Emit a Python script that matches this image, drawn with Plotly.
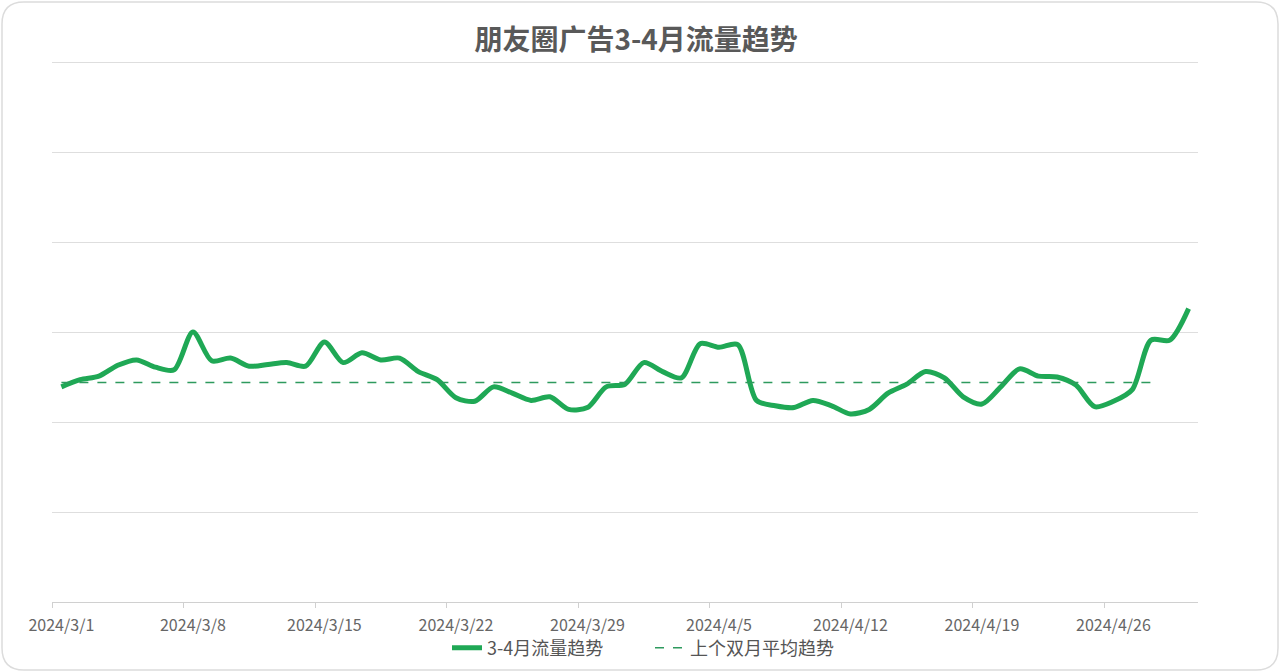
import plotly.graph_objects as go

dates = ["2024/3/%d" % d for d in range(1, 32)] + ["2024/4/%d" % d for d in range(1, 31)]
traffic = [239, 247, 251, 263, 269, 261, 258, 300, 268, 271,
           262, 264, 266, 262, 289, 266, 277, 269, 271, 256,
           247, 227, 223, 239, 232, 224, 228, 214, 216, 239,
           242, 266, 256, 249, 287, 283, 286, 224, 218, 216,
           224, 218, 209, 214, 232, 242, 256, 249, 228, 220,
           239, 259, 251, 250, 241, 217, 223, 236, 291, 291,
           326]
prev_avg = [244] * 59
tick_labels = ["2024/3/1", "2024/3/8", "2024/3/15", "2024/3/22", "2024/3/29",
               "2024/4/5", "2024/4/12", "2024/4/19", "2024/4/26"]

idx = list(range(len(dates)))
tick_pos = [dates.index(t) for t in tick_labels]

W, H = 1280, 672
L, R, T, B = 52, 82, 53, 70
pw, ph = W - L - R, H - T - B

fig = go.Figure()
fig.add_trace(go.Scatter(
    x=idx, y=traffic, mode="lines", name="3-4月流量趋势",
    line=dict(color="#1fa855", width=5, shape="spline", smoothing=0.8),
    customdata=dates, hovertemplate="%{customdata}: %{y}<extra></extra>"))
fig.add_trace(go.Scatter(
    x=idx[:len(prev_avg)], y=prev_avg, mode="lines", name="上个双月平均趋势",
    line=dict(color="#2e9a5e", width=1.5, dash="dash")))

def px2paper(px, py):
    return (px - L) / pw, (H - B - py) / ph

x0, y0, x1, y1, r = 2, 2, 1278, 670, 22
pts = [
    ("M", [(x0 + r, y0)]), ("L", [(x1 - r, y0)]), ("Q", [(x1, y0), (x1, y0 + r)]),
    ("L", [(x1, y1 - r)]), ("Q", [(x1, y1), (x1 - r, y1)]), ("L", [(x0 + r, y1)]),
    ("Q", [(x0, y1), (x0, y1 - r)]), ("L", [(x0, y0 + r)]), ("Q", [(x0, y0), (x0 + r, y0)]),
]
path = ""
for cmd, ps in pts:
    path += cmd + " " + " ".join("%.5f,%.5f" % px2paper(a, b) for a, b in ps) + " "
path += "Z"
fig.add_shape(type="path", path=path, xref="paper", yref="paper",
              line=dict(color="#dcdcdc", width=1.5), layer="below")

lx, ly = px2paper(650, 648)
fig.update_layout(
    width=W, height=H,
    margin=dict(l=L, r=R, t=T, b=B, autoexpand=False),
    paper_bgcolor="white", plot_bgcolor="white",
    font=dict(family="Noto Sans CJK SC, Noto Sans, sans-serif", color="#666"),
    title=dict(text="<b>朋友圈广告3-4月流量趋势</b>", x=0.497, xanchor="center",
               y=1 - 40 / H, yanchor="middle",
               font=dict(size=28, color="#595959")),
    showlegend=True,
    legend=dict(orientation="h", x=lx, xanchor="center",
                y=ly, yanchor="middle",
                font=dict(size=18, color="#555"),
                entrywidth=158, entrywidthmode="pixels",
                bgcolor="rgba(0,0,0,0)"),
    hovermode="x",
)
fig.update_xaxes(
    range=[-0.5, len(dates) - 0.5], tickmode="array", tickvals=tick_pos,
    ticktext=tick_labels, ticks="", showgrid=False, zeroline=False,
    showline=True, linecolor="#d0d0d0", linewidth=1, tickangle=0, automargin=False,
    tickfont=dict(size=16, color="#666"), ticklabelstandoff=9,
    minor=dict(tickmode="array", tickvals=[p - 0.5 for p in tick_pos],
               ticks="outside", ticklen=5, tickcolor="#d0d0d0", showgrid=False),
)
fig.update_yaxes(
    range=[0, 610], tickmode="array", tickvals=[100, 200, 300, 400, 500, 600],
    showticklabels=False, showgrid=True, gridcolor="#dedede", gridwidth=1,
    zeroline=False, showline=False, ticks="", automargin=False,
)

fig.write_html("out.html", config={"displayModeBar": False},
               post_script="document.body.style.margin='0';document.body.style.overflow='hidden';")
